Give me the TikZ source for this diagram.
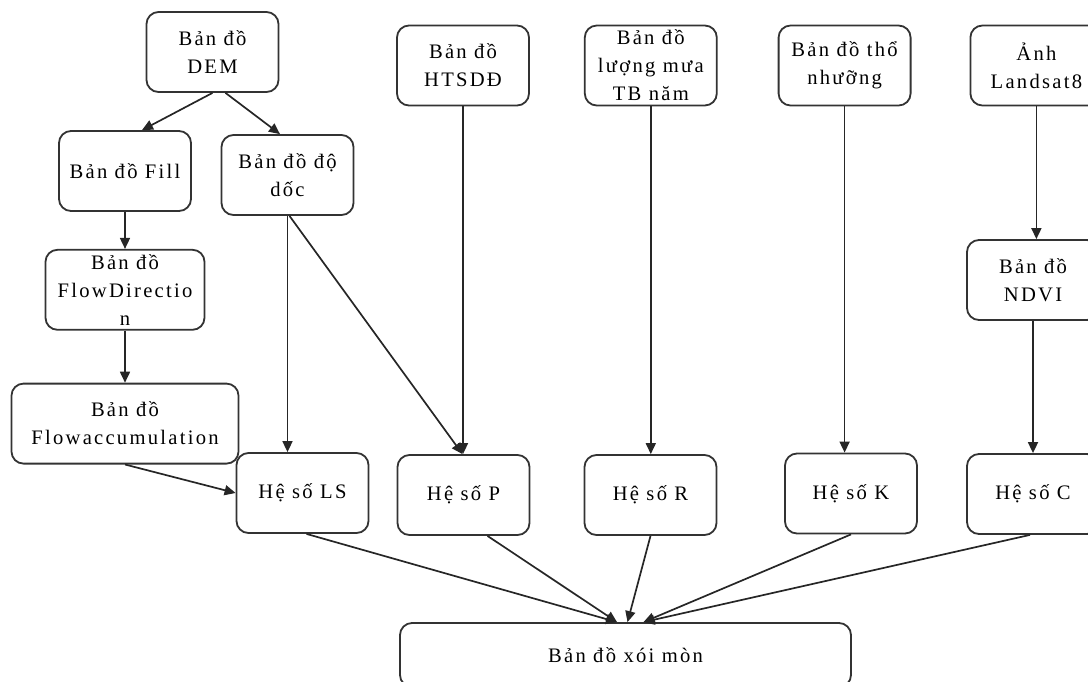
\documentclass[tikz,border=0pt]{standalone}
\usepackage{fontspec}
\setmainfont{Liberation Serif}[LetterSpace=11]
\usetikzlibrary{positioning}
\usetikzlibrary{calc}
\usetikzlibrary{arrows.meta}
\tikzset{box/.style={draw=black!80, line width=0.9pt, rounded corners=6pt, align=center, inner sep=1pt, minimum width=66pt, minimum height=40pt, font=\fontsize{10.3}{14}\selectfont}}

\begin{document}
\begin{tikzpicture}[x=0.5pt, y=-0.5pt,
    wide/.style={box, minimum width=79.5pt},
    widest/.style={box, minimum width=113.5pt},
    bottom/.style={box, minimum width=225.5pt, minimum height=32pt},
    arrow/.style={-{Triangle[length=5.5pt,width=5pt]}, line width=0.85pt, black!85},
]
\useasboundingbox (0,0) rectangle (1088,681);

% ban do nguon
\node[box] (dem) at (212.5,52) {Bản đồ\\DEM};
\node[box] (fill) at (125,171) {Bản đồ Fill};
\node[box] (slope) at (287.5,175) {Bản đồ độ\\dốc};
\node[wide, below=18.5pt of fill] (flowdir) {Bản đồ\\FlowDirectio\\n};
\node[widest, below=26pt of flowdir] (flowacc) {Bản đồ\\Flowaccumulation};
\node[box] (htsdd) at (463,65.5) {Bản đồ\\HTSDĐ};
\node[box, right=27pt of htsdd] (rain) {Bản đồ\\lượng mưa\\TB năm};
\node[box, right=30pt of rain] (soil) {Bản đồ thổ\\nhưỡng};
\node[box, right=29pt of soil] (landsat) {Ảnh\\Landsat8};
\node[box] (ndvi) at (1033,280) {Bản đồ\\NDVI};

% he so
\node[box] (ls) at (302.5,493) {Hệ số LS};
\node[box] (p) at (463.5,495) {Hệ số P};
\node[box] (r) at (650.5,495) {Hệ số R};
\node[box] (k) at (851,493.5) {Hệ số K};
\node[box] (c) at (1033,494) {Hệ số C};
\node[bottom] (erosion) at (625.5,655) {Bản đồ xói mòn};

\draw[arrow] (dem.south) -- ([xshift=8.5pt]fill.north);
\draw[arrow] ([xshift=6.5pt]dem.south) -- ([xshift=-3.75pt]slope.north);
\draw[arrow] (fill.south) -- (fill.south |- flowdir.north);
\draw[arrow] (flowdir.south) -- (flowdir.south |- flowacc.north);
\draw[arrow] (flowacc.south) -- (ls.west);
\draw[arrow] (slope.south) -- (slope.south |- ls.north);
\draw[arrow] ([xshift=1pt]slope.south) -- ([xshift=-0.5pt]p.north);
\draw[arrow] (htsdd.south) -- (htsdd.south |- p.north);
\draw[arrow] (rain.south) -- (rain.south |- r.north);
\draw[arrow] (soil.south) -- (soil.south |- k.north);
\draw[arrow] (landsat.south) -- (landsat.south |- ndvi.north);
\draw[arrow] (ndvi.south) -- (ndvi.south |- c.north);

\draw[arrow] ([xshift=2pt]ls.south) -- ([xshift=-4.25pt]erosion.north);
\draw[arrow] ([xshift=12pt]p.south) -- ([xshift=-4.25pt]erosion.north);
\draw[arrow] (r.south) -- ([xshift=1pt]erosion.north);
\draw[arrow] (k.south) -- ([xshift=9pt]erosion.north);
\draw[arrow] ([xshift=-1.5pt]c.south) -- ([xshift=9pt]erosion.north);
\end{tikzpicture}
\end{document}
